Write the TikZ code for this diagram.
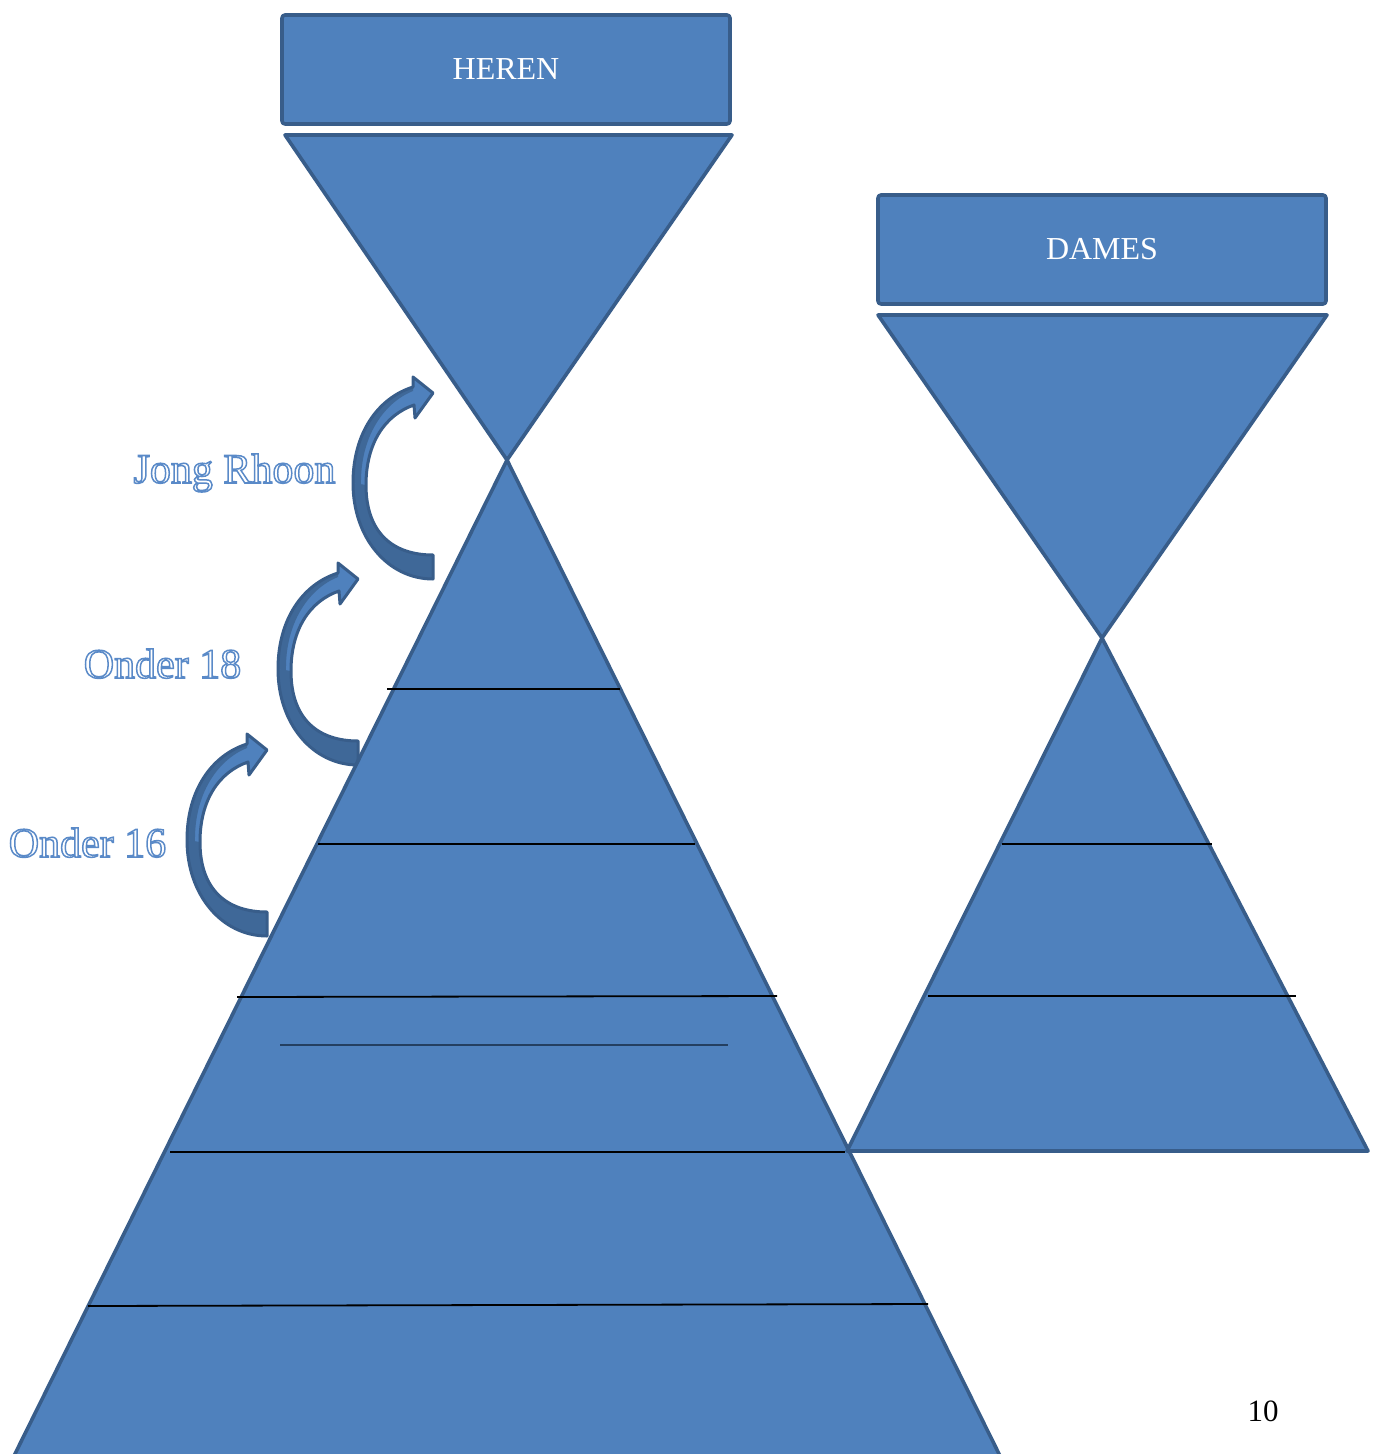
\documentclass[tikz,border=0pt]{standalone}
\usepackage{fontspec}
\setmainfont{Liberation Serif}
\usetikzlibrary{calc}
\definecolor{fillblue}{HTML}{4F81BD}
\definecolor{edgeblue}{HTML}{385D8A}
\definecolor{darkblue}{HTML}{3F6898}
\definecolor{navyline}{HTML}{243F60}
\tikzset{
  blueshape/.style={fill=fillblue,draw=edgeblue,line width=1.8pt,line join=round},
  titlebox/.style={blueshape,rounded corners=1.5pt,minimum width=224pt,minimum height=54.5pt,
     inner sep=0pt,text=white,font=\fontsize{16}{19}\selectfont},
  sepline/.style={black,line width=0.9pt},
  lbl/.style={font=\fontsize{21}{25}\selectfont,inner sep=0pt,anchor=base,text=white},
  curvarrow/.pic={
    \fill[fillblue] (0,186) .. controls (-45,186) and (-80,145) .. (-80,90)
      .. controls (-80,40) and (-55,5) .. (-20,-6) -- (-20,-16) -- (0,0) -- (-18,25) -- (-19,12)
      .. controls (-48,22) and (-67,50) .. (-67,92)
      .. controls (-67,140) and (-40,162) .. (0,162) -- cycle;
    \fill[darkblue] (-80,90) .. controls (-80,145) and (-45,186) .. (0,186) -- (0,162)
      .. controls (-40,162) and (-67,140) .. (-67,92) -- cycle;
    \fill[darkblue] (-80,90) .. controls (-80,40) and (-55,5) .. (-20,-6) -- (-20,-2)
      .. controls (-50,10) and (-73,45) .. (-72,92) -- cycle;
    \draw[edgeblue,line width=1.5pt,line join=round] (0,186) .. controls (-45,186) and (-80,145) .. (-80,90)
      .. controls (-80,40) and (-55,5) .. (-20,-6) -- (-20,-16) -- (0,0) -- (-18,25) -- (-19,12)
      .. controls (-48,22) and (-67,50) .. (-67,92)
      .. controls (-67,140) and (-40,162) .. (0,162) -- cycle;
  }
}
\newcommand\hollowtext[1]{\special{pdf:literal direct 2 Tr 0.75 w 0.353 0.541 0.784 RG}#1\special{pdf:literal direct 0 Tr}}
\begin{document}
\begin{tikzpicture}[x=0.5pt,y=-0.5pt]
\useasboundingbox (0,0) rectangle (1376,1454);
\clip (0,0) rectangle (1376,1454);

% curved arrows
\pic at (433,393) {curvarrow};
\pic at (358,579) {curvarrow};
\pic at (267,750) {curvarrow};

% HEREN
\node[titlebox] (heren) at (506,69.5) {HEREN};
\draw[blueshape] (285,135) -- (732,135) -- (507,460) -- cycle;
\draw[blueshape] (507,460) -- (1007,1470) -- (7,1470) -- cycle;
\draw[sepline] (387,689) -- (620,689);
\draw[sepline] (318,844) -- (695,844);
\draw[sepline] (237,997) -- (777,996);
\draw[navyline,line width=1.4pt] (280,1045) -- (728,1045);
\draw[sepline] (170,1152) -- (845,1152);
\draw[sepline] (88,1306) -- (928,1304);

% DAMES
\node[titlebox] (dames) at (1102,249.5) {DAMES};
\draw[blueshape] (878,315) -- (1327,315) -- (1102,638) -- cycle;
\draw[blueshape] (1102,638) -- (1368,1151) -- (847,1151) -- cycle;
\draw[sepline] (1002,844) -- (1212,844);
\draw[sepline] (928,996) -- (1296,996);

% labels
\node[lbl] (jong) at (234.5,483) {\hollowtext{Jong Rhoon}};
\node[lbl] (o18) at (162.5,678) {\hollowtext{Onder 18}};
\node[lbl] (o16) at (87.5,857) {\hollowtext{Onder 16}};

\node[font=\fontsize{15.5}{18}\selectfont,anchor=base,inner sep=0pt] (pagenum) at (1263,1421) {10};
\end{tikzpicture}
\end{document}
